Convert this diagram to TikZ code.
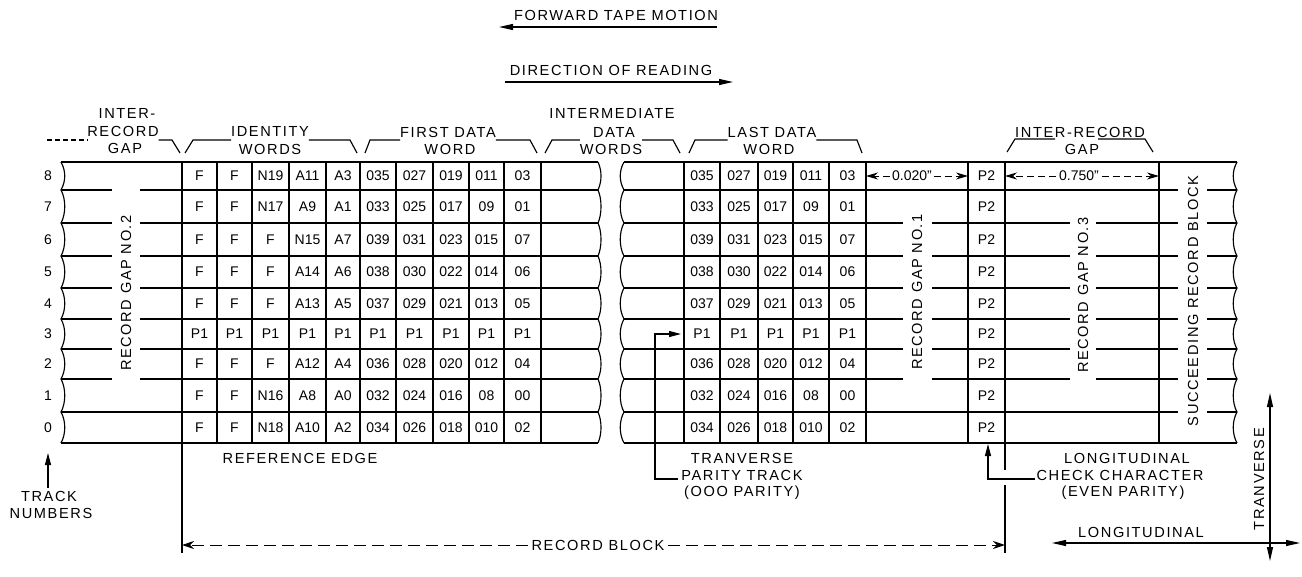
\documentclass[tikz,border=0pt]{standalone}
\usepackage{fontspec}
\setmainfont{Liberation Sans}
\newfontfamily\labfont[LetterSpace=11]{Liberation Sans}
\usetikzlibrary{arrows.meta}
\begin{document}
\begin{tikzpicture}[x=1pt,y=-1pt,
  every node/.style={inner sep=0pt,outer sep=0pt},
  lbl/.style={font=\labfont\fontsize{14.6}{16}\selectfont},
  vlbl/.style={lbl,rotate=90},
  cell/.style={font=\fontsize{14}{16}\selectfont},
  ln/.style={line width=1.15pt},
  tri/.style={-{Triangle[length=14pt,width=6pt]}},
  bitri/.style={{Triangle[length=14pt,width=6pt]}-{Triangle[length=14pt,width=6pt]}},
  dimarr/.style={line width=1pt,dash pattern=on 7pt off 4pt,-{Stealth[length=12pt,width=7pt]}},
  longarr/.style={line width=1pt,dash pattern=on 12pt off 6pt,-{Stealth[length=12pt,width=8pt]}}
]
\useasboundingbox (0,0) rectangle (1302,576);
\coordinate (hl) at (0,140);

% ---------------- left tape segment ----------------
\draw[ln] (61,162) -- (598,162);
\draw[ln] (61,443) -- (598,443);
\foreach \x in {182,217,252,289,326,360,396,433,469,504,541}
  \draw[ln] (\x,162) -- (\x,443);
\foreach \y in {190,223,256,288,319,349,379} {
  \draw[ln] (61,\y) -- (112,\y);
  \draw[ln] (140,\y) -- (598,\y);
}
\draw[ln] (61,412) -- (598,412);
% wavy break edges
\draw[ln] (61,162) \foreach \a/\b in {162/190,190/223,223/256,256/288,288/319,319/349,349/379,379/412,412/443}
  { .. controls (66,\a+9) and (66,\b-9) .. (61,\b) };
\draw[ln] (598,162) \foreach \a/\b in {162/190,190/223,223/256,256/288,288/319,319/349,349/379,379/412,412/443}
  { .. controls (602,\a+9) and (602,\b-9) .. (598,\b) };

% ---------------- right tape segment ----------------
\draw[ln] (624,162) -- (1237,162);
\draw[ln] (624,443) -- (1237,443);
\foreach \x in {684,720,758,793,829,866,968,1005,1159}
  \draw[ln] (\x,162) -- (\x,443);
\draw[ln] (624,190) -- (1178,190);
\draw[ln] (1207,190) -- (1237,190);
\foreach \y in {223,256,288,319,349,379} {
  \draw[ln] (624,\y) -- (903,\y);
  \draw[ln] (932,\y) -- (1070,\y);
  \draw[ln] (1096,\y) -- (1178,\y);
  \draw[ln] (1207,\y) -- (1237,\y);
}
\draw[ln] (624,412) -- (1178,412);
\draw[ln] (1207,412) -- (1237,412);
\draw[ln] (624,162) \foreach \a/\b in {162/190,190/223,223/256,256/288,288/319,319/349,349/379,379/412,412/443}
  { .. controls (619,\a+9) and (619,\b-9) .. (624,\b) };
\draw[ln] (1237,162) \foreach \a/\b in {162/190,190/223,223/256,256/288,288/319,319/349,349/379,379/412,412/443}
  { .. controls (1232,\a+9) and (1232,\b-9) .. (1237,\b) };

% ---------------- cell contents ----------------
\foreach \yy/\r/\vals in {
  176/8/{F,F,N19,A11,A3,035,027,019,011,03},
  206.5/7/{F,F,N17,A9,A1,033,025,017,09,01},
  239.5/6/{F,F,F,N15,A7,039,031,023,015,07},
  272/5/{F,F,F,A14,A6,038,030,022,014,06},
  303.5/4/{F,F,F,A13,A5,037,029,021,013,05},
  334/3/{P1,P1,P1,P1,P1,P1,P1,P1,P1,P1},
  364/2/{F,F,F,A12,A4,036,028,020,012,04},
  395.5/1/{F,F,N16,A8,A0,032,024,016,08,00},
  427.5/0/{F,F,N18,A10,A2,034,026,018,010,02}} {
  \node[cell] (trk\r) at (48,\yy) {\r};
  \node[cell] (ptwo\r) at (986.5,\yy) {P2};
  \foreach \v [count=\i from 0] in \vals {
    \pgfmathsetmacro\cx{{199.5,234.5,270.5,307.5,343,378,414.5,451,486.5,522.5}[\i]}
    \node[cell] (a\r-\i) at (\cx,\yy) {\v};
    \ifnum\i>4
      \pgfmathsetmacro\rx{{0,0,0,0,0,702,739,775.5,811,847.5}[\i]}
      \node[cell] (b\r-\i) at (\rx,\yy) {\v};
    \fi
  }
}

% vertical gap labels
\node[vlbl] (gapB) at (126,293) {RECORD GAP NO.2};
\node[vlbl] (gapA) at (917,292) {RECORD GAP NO.1};
\node[vlbl] (gapC) at (1083,295) {RECORD GAP NO.3};
\node[vlbl] (succ) at (1193,301) {SUCCEEDING RECORD BLOCK};

% ---------------- title arrows ----------------
\node[lbl] (fwd) at (616,15) {FORWARD TAPE MOTION};
\coordinate (fwdE) at (717,27);
\coordinate (fwdW) at (499,27);
\draw[ln,tri] (fwdE) -- (fwdW);
\node[lbl] (dor) at (611,70) {DIRECTION OF READING};
\coordinate (dorW) at (505,82);
\coordinate (dorE) at (733,82);
\draw[ln,tri] (dorW) -- (dorE);

% ---------------- header brackets ----------------
\node[lbl] (irA) at (127,113) {INTER-};
\node[lbl] (irB) at (123,131) {RECORD};
\node[lbl] (irC) at (125,148) {GAP};
\draw[ln,dash pattern=on 5pt off 3pt] (47,140) -- (irB.west |- hl);
\draw[ln] (irB.east |- hl) -- (172,140) -- (180,153);

\node[lbl] (idA) at (270,131) {IDENTITY};
\node[lbl] (idB) at (270,149) {WORDS};
\draw[ln] (185,153) -- (193,140) -- (idA.west |- hl);
\draw[ln] (idA.east |- hl) -- (350,140) -- (357,153);

\node[lbl] (fdA) at (448,132) {FIRST DATA};
\node[lbl] (fdB) at (450,149) {WORD};
\draw[ln] (365,153) -- (370,140) -- (fdA.west |- hl);
\draw[ln] (fdA.east |- hl) -- (530,140) -- (537,153);

\node[lbl] (imA) at (612,113) {INTERMEDIATE};
\node[lbl] (imB) at (614,132) {DATA};
\node[lbl] (imC) at (611,149) {WORDS};
\draw[ln] (545,153) -- (552,140) -- (imC.west |- hl);
\draw[ln] (imC.east |- hl) -- (673,140) -- (680,153);

\node[lbl] (ldA) at (772,132) {LAST DATA};
\node[lbl] (ldB) at (769,149) {WORD};
\draw[ln] (689,153) -- (695,140) -- (ldA.west |- hl);
\draw[ln] (ldA.east |- hl) -- (857,140) -- (862,153);

\node[lbl] (rgA) at (1080,132) {INTER-RECORD};
\node[lbl] (rgB) at (1082,149) {GAP};
\draw[ln] (1007,152) -- (1015,139) -- (1055,139);
\draw[ln] (1098,139) -- (1145,139) -- (1153,152);

% ---------------- dimensions ----------------
\node[cell] (dA) at (912,176) {0.020"};
\coordinate (dAL) at (866,176);
\coordinate (dAR) at (968,176);
\draw[dimarr] ([xshift=-2pt]dA.west) -- (dAL);
\draw[dimarr] ([xshift=2pt]dA.east) -- (dAR);

\node[cell] (dB) at (1079,176) {0.750"};
\coordinate (dBL) at (1005,176);
\coordinate (dBR) at (1159,176);
\draw[dimarr] ([xshift=-3pt]dB.west) -- (dBL);
\draw[dimarr] ([xshift=3pt]dB.east) -- (dBR);

% ---------------- bottom annotations ----------------
\node[lbl] (refe) at (300,458) {REFERENCE EDGE};

\node[lbl] (trA) at (49,496) {TRACK};
\node[lbl] (trB) at (51,513) {NUMBERS};
\coordinate (trT) at (48,453);
\coordinate (trS) at (48,488);
\draw[ln,-{Triangle[length=12pt,width=6pt]}] (trS) -- (trT);

\draw[ln] (182,443) -- (182,553);
\draw[ln] (1005,443) -- (1005,470);
\draw[ln] (1005,485) -- (1005,553);
\node[lbl] (rb) at (598,545) {RECORD BLOCK};
\coordinate (rbL) at (182,545);
\coordinate (rbR) at (1005,545);
\draw[longarr] ([xshift=-4pt]rb.west) -- (rbL);
\draw[longarr] ([xshift=4pt]rb.east) -- (rbR);

\node[lbl] (ptA) at (742,458) {TRANVERSE};
\node[lbl] (ptB) at (742,475) {PARITY TRACK};
\node[lbl] (ptC) at (742,493) {(OOO PARITY)};
\coordinate (pa) at (678,479);
\coordinate (pb) at (655,479);
\coordinate (pc) at (655,334);
\coordinate (pd) at (681,334);
\draw[ln,-{Triangle[length=12pt,width=6pt]}] (pa) -- (pb) -- (pc) -- (pd);

\node[lbl] (lcA) at (1127,458) {LONGITUDINAL};
\node[lbl] (lcB) at (1120,475) {CHECK CHARACTER};
\node[lbl] (lcC) at (1123,493) {(EVEN PARITY)};
\coordinate (la) at (1035,479);
\coordinate (lb) at (988,479);
\coordinate (lc) at (988,444);
\draw[ln,-{Triangle[length=12pt,width=6pt]}] (la) -- (lb) -- (lc);

\node[vlbl] (axT) at (1259,479) {TRANVERSE};
\coordinate (axTt) at (1270,393);
\coordinate (axTb) at (1270,561);
\draw[ln,bitri] (axTb) -- (axTt);
\node[lbl] (axL) at (1141,532) {LONGITUDINAL};
\coordinate (axLl) at (1052,543);
\coordinate (axLr) at (1300,543);
\draw[ln,bitri] (axLl) -- (axLr);
\end{tikzpicture}
\end{document}
